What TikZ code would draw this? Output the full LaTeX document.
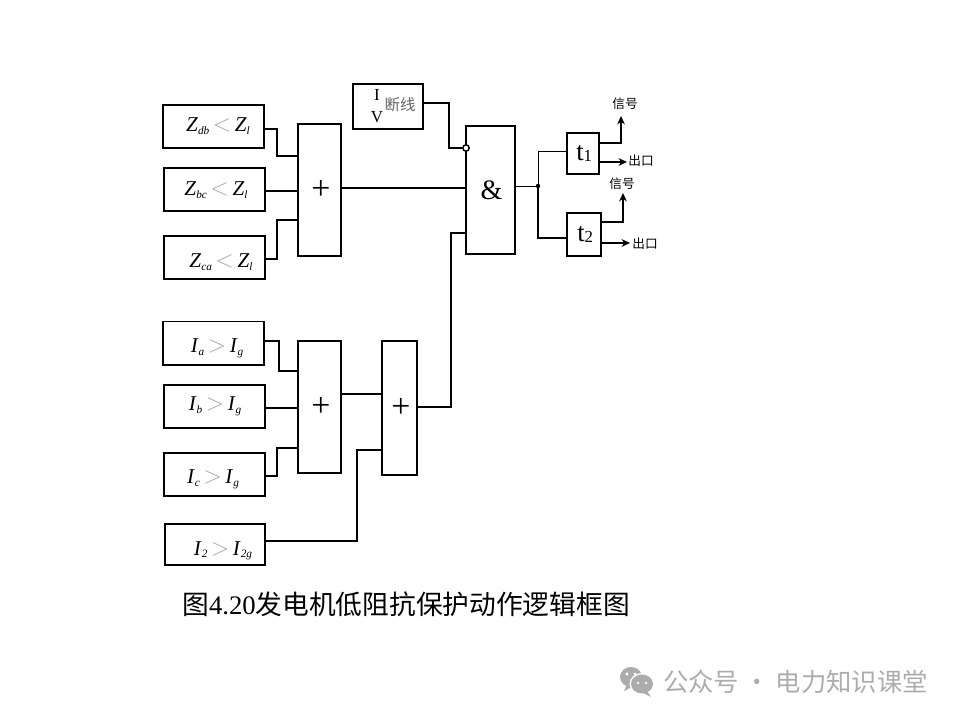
\documentclass[tikz,border=0pt]{standalone}
\usepackage{fontspec}
\setmainfont{Liberation Serif}
\newfontfamily\cjk{Noto Sans CJK SC}
\usetikzlibrary{arrows.meta, positioning, calc}
\definecolor{markgray}{RGB}{172,172,172}
% one comparison label, e.g. Z_db < Z_l
\newcommand{\cmplabel}[5]{\textit{#1}\raisebox{-0.3ex}{\footnotesize\textit{#2}}\,{\color{gray!70}\fontsize{19}{19}\selectfont$#3$}\,\textit{#4}\raisebox{-0.3ex}{\footnotesize\textit{#5}}}

\begin{document}
\begin{tikzpicture}[
  x=0.025cm, y=-0.025cm,
  inputbox/.style={rectangle, draw, line width=1.1pt, inner sep=0pt, minimum width=2.53cm, minimum height=1.08cm},
  inputtext/.style={anchor=base, inner sep=0pt, font=\fontsize{15}{15}\selectfont},
  gatebox/.style={rectangle, draw, line width=1.1pt, inner sep=0pt},
  wire/.style={line width=1.1pt},
  thinwire/.style={line width=0.7pt},
  outwire/.style={line width=1.3pt, -{Stealth[length=6pt, width=5.5pt]}},
  smalltext/.style={font=\cjk\fontsize{9}{9}\selectfont, inner sep=0pt}
  ]
  \useasboundingbox (0, 0) rectangle (960, 720);

  %% Impedance inputs
  \node[inputbox] (zdb) at (213.5, 126.5) {};
  \node[inputbox] (zbc) at (214.5, 189.5) {};
  \node[inputbox] (zca) at (214.5, 257.5) {};
  \node[inputtext] (zdbtext) at (218, 132) {\cmplabel{Z}{db}{<}{Z}{l}};
  \node[inputtext] (zbctext) at (216, 196) {\cmplabel{Z}{bc}{<}{Z}{l}};
  \node[inputtext] (zcatext) at (221, 268) {\cmplabel{Z}{ca}{<}{Z}{l}};

  %% Current inputs
  \node[inputbox] (ia) at (213.5, 343.2) {};
  \node[inputbox] (ib) at (214.5, 406.5) {};
  \node[inputbox] (ic) at (214.5, 474.5) {};
  \node[inputbox, minimum width=2.5cm, minimum height=1.03cm] (itwo) at (215, 544.5) {};
  \node[inputtext] (iatext) at (217, 353) {\cmplabel{I}{a}{>}{I}{g}};
  \node[inputtext] (ibtext) at (215, 411) {\cmplabel{I}{b}{>}{I}{g}};
  \node[inputtext] (ictext) at (213, 484) {\cmplabel{I}{c}{>}{I}{g}};
  \node[inputtext] (itwotext) at (223, 555) {\cmplabel{I}{2}{>}{I}{2g}};

  %% Gates
  \node[gatebox, minimum width=1.08cm, minimum height=3.3cm, font=\fontsize{24}{24}\selectfont] (orz) at (319.5, 190) {\hspace{0.07cm}+};
  \node[gatebox, minimum width=1.08cm, minimum height=3.3cm, font=\fontsize{24}{24}\selectfont] (ori) at (319.5, 407) {\hspace{0.07cm}+};
  \node[gatebox, minimum width=0.88cm, minimum height=3.35cm, font=\fontsize{24}{24}\selectfont] (orall) at (399.5, 408) {\hspace{0.07cm}+};
  \node[gatebox, minimum width=1.23cm, minimum height=3.2cm, font=\fontsize{20}{20}\selectfont] (andgate) at (490.5, 190) {\hspace{0.05cm}\&};

  %% Broken line block
  \node[gatebox, minimum width=1.75cm, minimum height=1.13cm] (ivbox) at (388, 106.5) {};
  \node[inner sep=0pt, font=\fontsize{12}{12}\selectfont] (itext) at (377, 95) {I};
  \node[inner sep=0pt, font=\fontsize{12}{12}\selectfont] (vtext) at (377, 117) {V};
  \node[inner sep=0pt, font=\cjk\fontsize{11}{11}\selectfont, text=gray!80!black] (dxtext) at (400, 105) {断线};

  %% Timers
  \node[gatebox, minimum width=0.81cm, minimum height=1.03cm, font=\fontsize{19}{19}\selectfont] (tone) at (583, 153.5) {\hspace{0.06cm}t\raisebox{-0.1ex}{\fontsize{12}{12}\selectfont 1}};
  \node[gatebox, minimum width=0.86cm, minimum height=1.08cm, font=\fontsize{19}{19}\selectfont] (ttwo) at (584, 234.5) {\hspace{0.06cm}t\raisebox{-0.1ex}{\fontsize{12}{12}\selectfont 2}};

  \node[circle, draw, line width=1pt, fill=white, minimum size=0.16cm, inner sep=0pt] (neg) at (466, 148) {};
  \node[circle, fill=black, minimum size=0.11cm, inner sep=0pt] (junc) at (538, 186) {};

  %% Output labels
  \node[smalltext] (sigone) at (625, 104) {信号};
  \node[smalltext] (outone) at (641, 161) {出口};
  \node[smalltext] (sigtwo) at (622, 184) {信号};
  \node[smalltext] (outtwo) at (645, 244) {出口};

  % inputs to first or
  \draw[wire] (zdb.east |- 0, 129) -| (277, 156) -- (orz.west |- 277, 156);
  \draw[wire] (zbc.east |- 0, 191) -- (orz.west |- 0, 191);
  \draw[wire] (zca.east |- 0, 259) -| (277, 220) -- (orz.west |- 277, 220);
  \draw[wire] (orz.east |- 0, 188) -- (andgate.west |- 0, 188);

  % inputs to second or
  \draw[wire] (ia.east |- 0, 341) -| (279, 371) -- (ori.west |- 279, 371);
  \draw[wire] (ib.east |- 0, 408) -- (ori.west |- 0, 408);
  \draw[wire] (ic.east |- 0, 476) -| (277, 448) -- (ori.west |- 277, 448);
  \draw[wire] (ori.east |- 0, 394) -- (orall.west |- 0, 394);
  \draw[wire] (itwo.east |- 0, 541) -| (357, 450) -- (orall.west |- 357, 450);

  % into the and gate
  \draw[wire] (orall.east |- 0, 407) -| (451, 233) -- (andgate.west |- 451, 233);
  \draw[wire] (ivbox.east |- 0, 103) -| (449, 148) -- (neg.west);

  % and gate to timers
  \draw[thinwire] (andgate.east |- junc) -- (junc);
  \draw[thinwire] (junc) |- (tone.west |- 0, 151);
  \draw[wire] (junc) |- (ttwo.west |- 0, 238);

  % timer outputs
  \draw[outwire] (tone.east |- 0, 143) -| (621, 116);
  \draw[outwire] (tone.east |- 0, 162) -- (627, 162);
  \draw[outwire] (ttwo.east |- 0, 222) -| (623, 193);
  \draw[outwire] (ttwo.east |- 0, 243) -- (630, 243);

  %% Caption
  \node[anchor=west, inner sep=0pt, font=\fontsize{19}{19}\selectfont] (caption) at (182, 604) {{\cjk 图}4.20{\cjk 发电机低阻抗保护动作逻辑框图}};

  %% Watermark
  \fill[markgray] (631, 677) ellipse (11 and 10);
  \fill[markgray] (627, 684) -- (624, 691) -- (634, 686) -- cycle;
  \fill[white] (642, 684) ellipse (12.5 and 11);
  \fill[markgray] (642, 684) ellipse (11 and 9.5);
  \fill[markgray] (647, 691) -- (651, 697) -- (641, 692) -- cycle;
  \fill[white] (627, 674) circle (1.6) (635, 674) circle (1.6) (638, 683) circle (1.4) (646, 683) circle (1.4);
  \node[anchor=west, inner sep=0pt, text=markgray, font=\cjk\fontsize{18}{18}\selectfont] (wmark) at (663, 682) {公众号 · 电力知识课堂};
\end{tikzpicture}
\end{document}
